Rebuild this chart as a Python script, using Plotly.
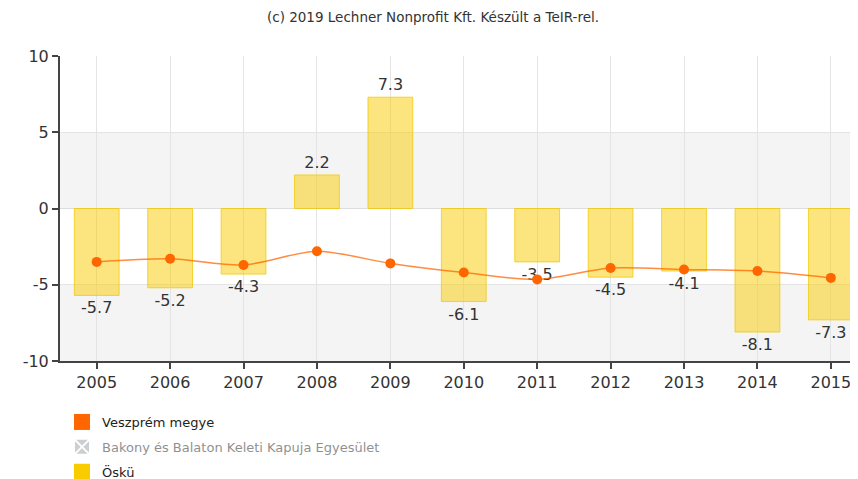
import plotly.graph_objects as go

years = ["2005", "2006", "2007", "2008", "2009", "2010", "2011", "2012", "2013", "2014", "2015"]
osku = [-5.7, -5.2, -4.3, 2.2, 7.3, -6.1, -3.5, -4.5, -4.1, -8.1, -7.3]
veszprem = [-3.5, -3.3, -3.7, -2.8, -3.6, -4.2, -4.65, -3.9, -4.0, -4.1, -4.55]
y_ticks = [-10, -5, 0, 5, 10]
title_text = "(c) 2019 Lechner Nonprofit Kft. Készült a TeIR-rel."
names = ["Veszprém megye", "Bakony és Balaton Keleti Kapuja Egyesület", "Öskü"]

fig = go.Figure()

fig.add_trace(go.Bar(
    x=years, y=osku, name=names[2], showlegend=False,
    marker=dict(color="rgba(249,204,0,0.5)", line=dict(color="rgba(240,200,0,0.75)", width=1)),
    width=0.61,
    text=[f"{v:.1f}" for v in osku], textposition="outside", cliponaxis=False,
    textfont=dict(family="DejaVu Sans", size=16, color="#333333"),
    hoverinfo="skip",
))

fig.add_trace(go.Scatter(
    x=years, y=veszprem, name=names[0], showlegend=False,
    mode="lines+markers",
    line=dict(color="rgba(255,102,0,0.75)", width=1.5, shape="spline", smoothing=0.8),
    marker=dict(color="#ff6600", size=10),
))

# legend entries
fig.add_trace(go.Scatter(x=[None], y=[None], name=names[0], mode="markers",
                         marker=dict(symbol="square", size=16, color="#ff6600"),
                         legendgroup="a"))
fig.add_trace(go.Scatter(x=[None], y=[None], name=names[1], mode="markers",
                         marker=dict(symbol="square-x", size=16, color="#9aa0a6",
                                     line=dict(color="white", width=2)),
                         legendgroup="b", visible="legendonly"))
fig.add_trace(go.Scatter(x=[None], y=[None], name=names[2], mode="markers",
                         marker=dict(symbol="square", size=16, color="#f9cc00"),
                         legendgroup="c"))

# alternating bands
for y0, y1 in [(0, 5), (-10, -5)]:
    fig.add_shape(type="rect", xref="paper", yref="y", x0=0, x1=1, y0=y0, y1=y1,
                  fillcolor="#f4f4f4", line=dict(width=0), layer="below")

fig.update_layout(
    width=850, height=471,
    margin=dict(l=52, r=0, t=48, b=118, autoexpand=False),
    paper_bgcolor="white", plot_bgcolor="white",
    font=dict(family="DejaVu Sans", color="#333333"),
    title=dict(text=title_text, x=0.5, xanchor="center", y=1 - 9 / 471, yanchor="middle",
               font=dict(size=13.5, color="#333333", family="DejaVu Sans")),
    showlegend=True,
    legend=dict(x=0.0025, xanchor="left", yref="container", y=1 - 399 / 471, yanchor="top",
                font=dict(size=13, color="#222222"),
                traceorder="grouped", tracegroupgap=5, itemsizing="trace",
                bgcolor="rgba(0,0,0,0)"),
    bargap=0.39,
    xaxis=dict(
        type="category", range=[-0.5, 10.37],
        showgrid=True, gridcolor="#e4e4e4", gridwidth=1,
        showline=True, linecolor="#444444", linewidth=2,
        ticks="outside", ticklen=6, tickcolor="#444444", tickwidth=1.5,
        tickfont=dict(size=16, color="#333333"),
        fixedrange=True,
    ),
    yaxis=dict(
        range=[-10, 10], tickvals=y_ticks, ticktext=[str(v) for v in y_ticks],
        showgrid=True, gridcolor="#e4e4e4", gridwidth=1,
        zeroline=True, zerolinecolor="#dddddd", zerolinewidth=1,
        showline=True, linecolor="#444444", linewidth=2,
        ticks="outside", ticklen=6, tickcolor="#444444", tickwidth=1.5,
        tickfont=dict(size=16, color="#333333"),
        fixedrange=True,
    ),
)

fig.write_html("out.html")
